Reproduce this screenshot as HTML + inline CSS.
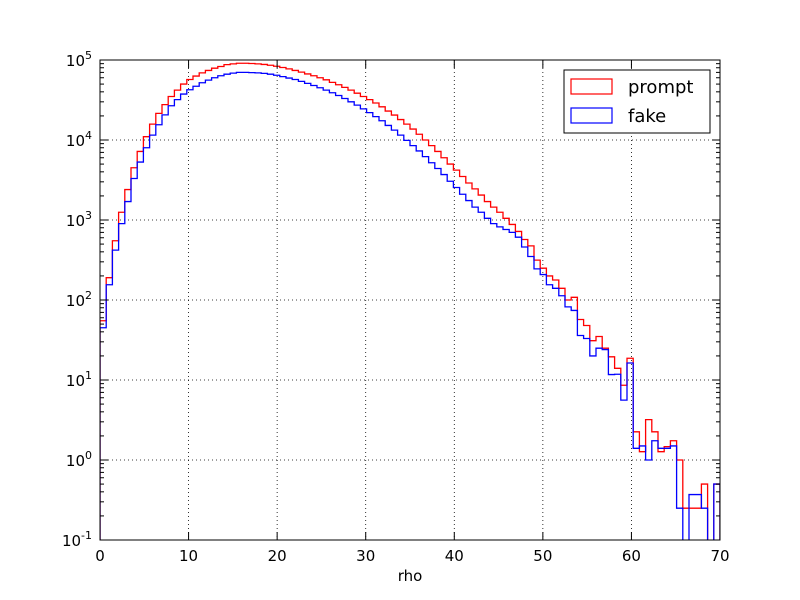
<!DOCTYPE html>
<html><head><meta charset="utf-8"><style>
body{margin:0;background:#fff;}
svg{display:block;font-family:"DejaVu Sans","Liberation Sans",sans-serif;}
</style></head><body>
<svg id="chart" width="800" height="600" xmlns="http://www.w3.org/2000/svg">
<rect x="0" y="0" width="800" height="600" fill="#fff"/>
<defs><clipPath id="plotclip"><rect x="100" y="60" width="620" height="480"/></clipPath></defs>
<g id="grid"></g>
<g id="series" clip-path="url(#plotclip)"></g>
<rect x="100" y="60" width="620" height="480" fill="none" stroke="#000" stroke-width="1"/>
<g id="ticks"></g>
<text x="410" y="581" font-size="15" text-anchor="middle">rho</text>
<g>
<rect x="564" y="70" width="146" height="63" fill="#fff" stroke="#000" stroke-width="1"/>
<rect x="571" y="79" width="41" height="15" fill="none" stroke="#f00" stroke-width="1.2"/>
<text x="628" y="93" font-size="18">prompt</text>
<rect x="571" y="108" width="41" height="15" fill="none" stroke="#00f" stroke-width="1.2"/>
<text x="628" y="122" font-size="18">fake</text>
</g>
</svg>
<script>
const binWidth = 0.7;
const xTicks = [0,10,20,30,40,50,60,70];
const yDecades = [-1,0,1,2,3,4,5];
const promptCounts = [55,190,550,1250,2400,4500,7200,11000,15800,21500,27700,35000,42000,50000,57000,63000,69000,74000,79000,83000,87500,89500,91000,91000,90500,89500,88000,86000,83500,80500,77500,74000,70500,67000,63500,60000,56500,52500,49000,45500,42000,38500,35000,32000,29000,26000,23000,20500,18000,15800,13700,11800,10000,8500,7200,6000,5000,4200,3500,2900,2450,2050,1700,1450,1250,1050,880,720,570,475,315,250,200,178,140,100,108,57,48,31,35,25,19.5,14,8.6,18.7,2.25,1.27,3.2,2.25,1.27,1.47,1.74,1.0,0.25,0.25,0.25,0.5,0,0.5];
const fakeCounts = [45,155,420,900,1700,3300,5300,8000,11500,15500,20600,26800,32000,37500,42500,47000,52000,56000,60000,63500,66500,68500,70000,70000,69500,69000,68000,66500,64500,62000,59500,57000,54000,51000,48000,45000,42000,39000,36000,33000,30000,27300,24500,22000,19600,17400,15200,13300,11500,9900,8500,7300,6200,5200,4400,3700,3050,2550,2100,1750,1450,1250,1050,900,820,760,700,610,460,350,245,208,155,140,113,82,74,36,33,20,25,24,11.7,11.8,5.6,16.3,1.4,1.5,1.0,1.74,1.4,1.4,1.5,0.25,0,0.37,0.37,0.25,0,0.5];
const NS="http://www.w3.org/2000/svg";
const X0=100,X1=720,Y0=540,Y1=60,XMIN=0,XMAX=70,LMIN=-1,LMAX=5;
function xs(v){return X0+(v-XMIN)/(XMAX-XMIN)*(X1-X0);}
function ys(v){if(v<=0)return Y0+20;return Y0-(Math.log10(v)-LMIN)/(LMAX-LMIN)*(Y0-Y1);}
function mk(tag,attrs,parent){const e=document.createElementNS(NS,tag);for(const k in attrs)e.setAttribute(k,attrs[k]);parent.appendChild(e);return e;}
const grid=document.getElementById('grid'),ticks=document.getElementById('ticks'),series=document.getElementById('series');
xTicks.forEach(t=>{const x=xs(t);
 if(t>XMIN&&t<XMAX){const g=mk('line',{x1:x,x2:x,y1:Y1,y2:Y0,stroke:'#000','stroke-dasharray':'1,3','stroke-width':0.8},grid);
 
 }
 mk('line',{x1:x,x2:x,y1:Y0,y2:Y0-8,stroke:'#000'},ticks);
 mk('line',{x1:x,x2:x,y1:Y1,y2:Y1+8,stroke:'#000'},ticks);
 const tl=mk('text',{x:x,y:Y0+21,'font-size':15,'text-anchor':'middle'},ticks);tl.textContent=t;
 
 
});
yDecades.forEach(d=>{const y=ys(Math.pow(10,d));
 if(d>LMIN&&d<LMAX){const g=mk('line',{x1:X0,x2:X1,y1:y,y2:y,stroke:'#000','stroke-dasharray':'1,3','stroke-width':0.8},grid);
 
 }
 mk('line',{x1:X0,x2:X0+8,y1:y,y2:y,stroke:'#000'},ticks);
 mk('line',{x1:X1,x2:X1-8,y1:y,y2:y,stroke:'#000'},ticks);
 if(d<LMAX){for(let m=2;m<10;m++){const ym=ys(m*Math.pow(10,d));
  mk('line',{x1:X0,x2:X0+4,y1:ym,y2:ym,stroke:'#000'},ticks);
  mk('line',{x1:X1,x2:X1-4,y1:ym,y2:ym,stroke:'#000'},ticks);}}
 const tl=mk('text',{x:X0-8,y:y+6,'font-size':15,'text-anchor':'end'},ticks);
 
 
 const t1=document.createElementNS(NS,'tspan');t1.textContent='10';tl.appendChild(t1);
 const t2=document.createElementNS(NS,'tspan');t2.setAttribute('dy','-7');t2.setAttribute('font-size','11');t2.textContent=String(d);tl.appendChild(t2);
});
function stepPath(vals,color,name){
 let d='M'+xs(0)+','+(Y0+20);
 vals.forEach((v,i)=>{const y=ys(v);d+=' L'+xs(i*binWidth)+','+y+' L'+xs((i+1)*binWidth)+','+y;});
 d+=' L'+xs(vals.length*binWidth)+','+(Y0+20);
 const p=mk('path',{d:d,fill:'none',stroke:color,'stroke-width':1.3},series);
 
 
}
stepPath(promptCounts,'#f00','prompt-histogram');
stepPath(fakeCounts,'#00f','fake-histogram');
</script>
</body></html>
